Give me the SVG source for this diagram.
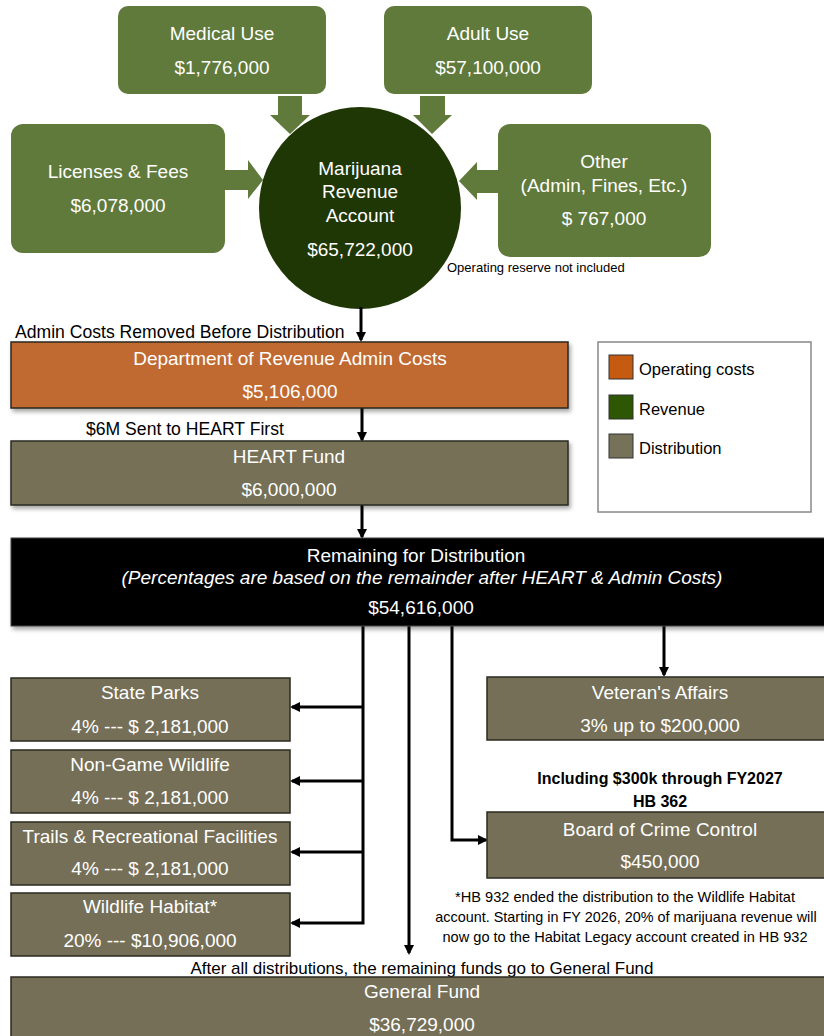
<svg xmlns="http://www.w3.org/2000/svg" width="824" height="1036" viewBox="0 0 824 1036">
<defs>
<style>
text{font-family:"Liberation Sans",Arial,sans-serif;}
.w{fill:#fff;font-size:19px;text-anchor:middle;}
.k{fill:#000;}
.src{fill:#607a3c;}
.dist{fill:#756f57;stroke:#2a2a20;stroke-width:1.5;}
.conn{stroke:#000;stroke-width:3;fill:none;}
.blk{fill:#607a3c;}
</style>
<filter id="sh" x="-5%" y="-5%" width="115%" height="130%">
<feDropShadow dx="2" dy="3" stdDeviation="2" flood-color="#000" flood-opacity="0.35"/>
</filter>
<marker id="ah" markerWidth="10" markerHeight="10" refX="8" refY="5" orient="auto" markerUnits="userSpaceOnUse">
<path d="M0,0 L10,5 L0,10 z" fill="#000"/>
</marker>
</defs>
<rect width="824" height="1036" fill="#fff"/>

<g id="block-arrows">
<polygon class="blk" points="278,96 302,96 302,115 310,115 290,134 270,115 278,115"/>
<polygon class="blk" points="420,96 445,96 445,115 452,115 432,134 413,115 420,115"/>
<polygon class="blk" points="225,170 248,170 248,160 263,180 248,199 248,190 225,190"/>
<polygon class="blk" points="498,170 477,170 477,162 459,181 477,200 477,193 498,193"/>
</g>

<g id="medical">
<rect class="src" x="118" y="6" width="208" height="88" rx="10"/>
<text class="w" x="222" y="40">Medical Use</text>
<text class="w" x="222" y="74">$1,776,000</text>
</g>
<g id="adult">
<rect class="src" x="384" y="6" width="208" height="88" rx="10"/>
<text class="w" x="488" y="40">Adult Use</text>
<text class="w" x="488" y="74">$57,100,000</text>
</g>
<g id="licenses">
<rect class="src" x="11" y="124" width="214" height="129" rx="12"/>
<text class="w" x="118" y="178">Licenses &amp; Fees</text>
<text class="w" x="118" y="212">$6,078,000</text>
</g>
<g id="other">
<rect class="src" x="498" y="124" width="213" height="133" rx="12"/>
<text class="w" x="604" y="168">Other</text>
<text class="w" x="604" y="192">(Admin, Fines, Etc.)</text>
<text class="w" x="604" y="225">$ 767,000</text>
</g>
<g id="account">
<circle cx="360" cy="208" r="101" fill="#1f3605"/>
<text class="w" x="360" y="175">Marijuana</text>
<text class="w" x="360" y="198">Revenue</text>
<text class="w" x="360" y="222">Account</text>
<text class="w" x="360" y="256">$65,722,000</text>
</g>
<text x="447" y="272" font-size="13" class="k">Operating reserve not included</text>

<g id="connectors">
<line class="conn" x1="361" y1="307" x2="361" y2="340" marker-end="url(#ah)"/>
<line class="conn" x1="362" y1="408" x2="362" y2="440" marker-end="url(#ah)"/>
<line class="conn" x1="362" y1="505" x2="362" y2="537" marker-end="url(#ah)"/>
<polyline class="conn" points="363,626 363,923 292,923" marker-end="url(#ah)"/>
<line class="conn" x1="363" y1="707" x2="292" y2="707" marker-end="url(#ah)"/>
<line class="conn" x1="363" y1="781" x2="292" y2="781" marker-end="url(#ah)"/>
<line class="conn" x1="363" y1="852" x2="292" y2="852" marker-end="url(#ah)"/>
<line class="conn" x1="409" y1="626" x2="409" y2="953" marker-end="url(#ah)"/>
<polyline class="conn" points="452,626 452,840 486,840" marker-end="url(#ah)"/>
<line class="conn" x1="664" y1="626" x2="664" y2="675" marker-end="url(#ah)"/>
</g>

<text x="15" y="338" font-size="17.6" class="k">Admin Costs Removed Before Distribution</text>
<g id="dor">
<rect x="11" y="342" width="557" height="66" fill="#c06a33" stroke="#2a2a20" stroke-width="1.5" filter="url(#sh)"/>
<text class="w" x="290" y="365">Department of Revenue Admin Costs</text>
<text class="w" x="290" y="398">$5,106,000</text>
</g>
<text x="86" y="435" font-size="17.6" class="k">$6M Sent to HEART First</text>
<g id="heart">
<rect class="dist" x="11" y="441" width="557" height="64" filter="url(#sh)"/>
<text class="w" x="289" y="463">HEART Fund</text>
<text class="w" x="289" y="496">$6,000,000</text>
</g>

<g id="legend">
<rect x="598" y="342" width="213" height="170" fill="#fff" stroke="#888" stroke-width="1.5"/>
<rect x="609" y="355" width="24" height="24" fill="#c55a11" stroke="#333" stroke-width="1"/>
<rect x="609" y="395" width="24" height="24" fill="#2e5703" stroke="#333" stroke-width="1"/>
<rect x="609" y="434" width="24" height="24" fill="#767159" stroke="#333" stroke-width="1"/>
<text x="639" y="375" font-size="16.5" class="k">Operating costs</text>
<text x="639" y="415" font-size="16.5" class="k">Revenue</text>
<text x="639" y="454" font-size="16.5" class="k">Distribution</text>
</g>

<g id="remaining">
<rect x="11" y="538" width="815" height="88" fill="#000" stroke="#444" stroke-width="1" filter="url(#sh)"/>
<text class="w" x="416" y="562">Remaining for Distribution</text>
<text class="w" x="422" y="584" font-size="16.5" font-style="italic">(Percentages are based on the remainder after HEART &amp; Admin Costs)</text>
<text class="w" x="421" y="614">$54,616,000</text>
</g>

<g id="state-parks">
<rect class="dist" x="11" y="678" width="279" height="63"/>
<text class="w" x="150" y="699">State Parks</text>
<text class="w" x="150" y="733">4% --- $ 2,181,000</text>
</g>
<g id="non-game">
<rect class="dist" x="11" y="750" width="279" height="63"/>
<text class="w" x="150" y="771">Non-Game Wildlife</text>
<text class="w" x="150" y="804">4% --- $ 2,181,000</text>
</g>
<g id="trails">
<rect class="dist" x="11" y="822" width="279" height="63"/>
<text class="w" x="150" y="843">Trails &amp; Recreational Facilities</text>
<text class="w" x="150" y="875">4% --- $ 2,181,000</text>
</g>
<g id="wildlife">
<rect class="dist" x="11" y="893" width="279" height="63"/>
<text class="w" x="150" y="913">Wildlife Habitat*</text>
<text class="w" x="150" y="947">20% --- $10,906,000</text>
</g>
<g id="veterans">
<rect class="dist" x="487" y="677" width="340" height="63"/>
<text class="w" x="660" y="699">Veteran's Affairs</text>
<text class="w" x="660" y="732">3% up to $200,000</text>
</g>
<text x="660" y="784" font-size="16" font-weight="bold" text-anchor="middle" class="k">Including $300k through FY2027</text>
<text x="660" y="807" font-size="16" font-weight="bold" text-anchor="middle" class="k">HB 362</text>
<g id="crime">
<rect class="dist" x="487" y="812" width="340" height="66"/>
<text class="w" x="660" y="836">Board of Crime Control</text>
<text class="w" x="660" y="868">$450,000</text>
</g>
<text x="625" y="902" font-size="14.6" text-anchor="middle" class="k">*HB 932 ended the distribution to the Wildlife Habitat</text>
<text x="626" y="922" font-size="14.4" text-anchor="middle" class="k">account. Starting in FY 2026, 20% of marijuana revenue will</text>
<text x="625" y="942" font-size="14.6" text-anchor="middle" class="k">now go to the Habitat Legacy account created in HB 932</text>
<text x="422" y="974" font-size="17" text-anchor="middle" class="k">After all distributions, the remaining funds go to General Fund</text>
<g id="general">
<rect class="dist" x="11" y="977" width="816" height="62"/>
<text class="w" x="422" y="998">General Fund</text>
<text class="w" x="422" y="1031">$36,729,000</text>
</g>
</svg>
